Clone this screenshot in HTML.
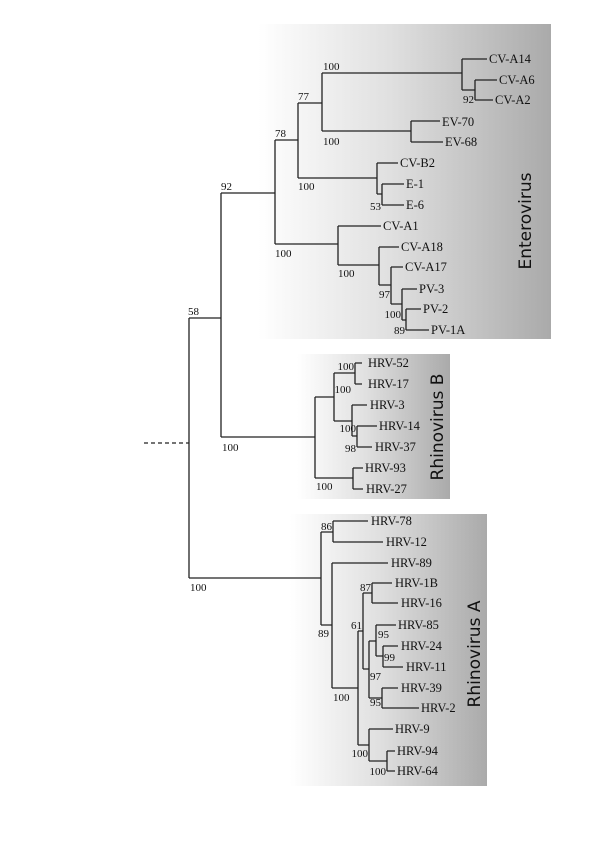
<!DOCTYPE html>
<html><head><meta charset="utf-8"><style>
html,body{margin:0;padding:0;background:#fff;}
svg{display:block;}
.t{font-family:"Liberation Serif",serif;font-size:12.5px;fill:#111;}
.s{font-family:"Liberation Serif",serif;font-size:11px;fill:#111;}
.g{font-family:"DejaVu Sans","Liberation Sans",sans-serif;font-size:17px;fill:#111;}
</style></head><body>
<svg width="600" height="848" viewBox="0 0 600 848" xmlns="http://www.w3.org/2000/svg">
<defs>
<linearGradient id="gr" x1="0" x2="1" y1="0" y2="0">
<stop offset="0" stop-color="#ffffff"/>
<stop offset="0.45" stop-color="#e0e0e0"/>
<stop offset="1" stop-color="#aaaaaa"/>
</linearGradient>
</defs>
<rect x="258" y="24" width="293" height="315" fill="url(#gr)"/>
<rect x="297" y="354" width="153" height="145" fill="url(#gr)"/>
<rect x="290" y="514" width="197" height="272" fill="url(#gr)"/>

<g stroke="#222" stroke-width="1.3" fill="none">
<line x1="144" y1="443" x2="189" y2="443" stroke-dasharray="4,3"/>
<path d="M189 318 V578 M189 318 H221 M189 578 H321"/>
<path d="M221 193 V437 M221 193 H275 M221 437 H315"/>
<path d="M275 140 V244 M275 140 H298 M275 244 H338"/>
<path d="M298 103 V178 M298 103 H322 M298 178 H377"/>
<path d="M322 73 V131 M322 73 H462 M322 131 H411"/>
<path d="M462 59 V90 M462 59 H487 M462 90 H475"/>
<path d="M475 80 V100 M475 80 H497 M475 100 H493"/>
<path d="M411 121 V142 M411 121 H440 M411 142 H443"/>
<path d="M377 163 V194 M377 163 H398 M377 194 H382"/>
<path d="M382 184 V205 M382 184 H404 M382 205 H404"/>
<path d="M338 226 V265 M338 226 H381 M338 265 H379"/>
<path d="M379 247 V285 M379 247 H399 M379 285 H391"/>
<path d="M391 267 V304 M391 267 H403 M391 304 H402"/>
<path d="M402 289 V320 M402 289 H417 M402 320 H406"/>
<path d="M406 309 V330 M406 309 H421 M406 330 H429"/>
<path d="M315 397 V478 M315 397 H334 M315 478 H353"/>
<path d="M334 373 V421 M334 373 H355 M334 421 H352"/>
<path d="M355 363 V384 M355 363 H362 M355 384 H362"/>
<path d="M352 405 V436 M352 405 H367 M352 436 H357"/>
<path d="M357 426 V447 M357 426 H377 M357 447 H372"/>
<path d="M353 468 V489 M353 468 H363 M353 489 H363"/>
<path d="M321 532 V625 M321 532 H333 M321 625 H332"/>
<path d="M333 521 V542 M333 521 H368 M333 542 H383"/>
<path d="M332 563 V688 M332 563 H388 M332 688 H358"/>
<path d="M358 631 V745 M358 631 H363 M358 745 H369"/>
<path d="M363 593 V669 M363 593 H372 M363 669 H369"/>
<path d="M372 583 V603 M372 583 H392 M372 603 H398"/>
<path d="M369 641 V698 M369 641 H376 M369 698 H382"/>
<path d="M376 625 V656 M376 625 H396 M376 656 H383"/>
<path d="M383 646 V667 M383 646 H398 M383 667 H403"/>
<path d="M382 688 V708 M382 688 H398 M382 708 H419"/>
<path d="M369 729 V761 M369 729 H393 M369 761 H387"/>
<path d="M387 751 V771 M387 751 H395 M387 771 H395"/>
</g>

<g class="t">
<text x="489" y="63">CV-A14</text>
<text x="499" y="84">CV-A6</text>
<text x="495" y="104">CV-A2</text>
<text x="442" y="126">EV-70</text>
<text x="445" y="146">EV-68</text>
<text x="400" y="167">CV-B2</text>
<text x="406" y="188">E-1</text>
<text x="406" y="209">E-6</text>
<text x="383" y="230">CV-A1</text>
<text x="401" y="251">CV-A18</text>
<text x="405" y="271">CV-A17</text>
<text x="419" y="293">PV-3</text>
<text x="423" y="313">PV-2</text>
<text x="431" y="334">PV-1A</text>

<text x="368" y="367">HRV-52</text>
<text x="368" y="388">HRV-17</text>
<text x="370" y="409">HRV-3</text>
<text x="379" y="430">HRV-14</text>
<text x="375" y="451">HRV-37</text>
<text x="365" y="472">HRV-93</text>
<text x="366" y="493">HRV-27</text>

<text x="371" y="525">HRV-78</text>
<text x="386" y="546">HRV-12</text>
<text x="391" y="567">HRV-89</text>
<text x="395" y="587">HRV-1B</text>
<text x="401" y="607">HRV-16</text>
<text x="398" y="629">HRV-85</text>
<text x="401" y="650">HRV-24</text>
<text x="406" y="671">HRV-11</text>
<text x="401" y="692">HRV-39</text>
<text x="421" y="712">HRV-2</text>
<text x="395" y="733">HRV-9</text>
<text x="397" y="755">HRV-94</text>
<text x="397" y="775">HRV-64</text>
</g>

<g class="s">
<text x="323" y="70">100</text>
<text x="298" y="100">77</text>
<text x="275" y="137">78</text>
<text x="221" y="190">92</text>
<text x="188" y="315">58</text>
<text x="323" y="145">100</text>
<text x="298" y="190">100</text>
<text x="381" y="210" text-anchor="end">53</text>
<text x="275" y="257">100</text>
<text x="338" y="277">100</text>
<text x="390" y="298" text-anchor="end">97</text>
<text x="401" y="318" text-anchor="end">100</text>
<text x="405" y="334" text-anchor="end">89</text>
<text x="474" y="103" text-anchor="end">92</text>

<text x="354" y="370" text-anchor="end">100</text>
<text x="333" y="393" text-anchor="end" dx="18">100</text>
<text x="356" y="432" text-anchor="end">100</text>
<text x="356" y="452" text-anchor="end">98</text>
<text x="222" y="451">100</text>
<text x="316" y="490">100</text>

<text x="332" y="530" text-anchor="end">86</text>
<text x="318" y="637">89</text>
<text x="190" y="591">100</text>
<text x="371" y="591" text-anchor="end">87</text>
<text x="362" y="629" text-anchor="end">61</text>
<text x="378" y="638">95</text>
<text x="384" y="661">99</text>
<text x="370" y="680">97</text>
<text x="333" y="701">100</text>
<text x="381" y="706" text-anchor="end">95</text>
<text x="368" y="757" text-anchor="end">100</text>
<text x="386" y="775" text-anchor="end">100</text>
</g>

<text class="g" transform="translate(531,221) rotate(-90)" text-anchor="middle">Enterovirus</text>
<text class="g" transform="translate(443,427) rotate(-90)" text-anchor="middle">Rhinovirus B</text>
<text class="g" transform="translate(480,654) rotate(-90)" text-anchor="middle">Rhinovirus A</text>
</svg>
</body></html>
